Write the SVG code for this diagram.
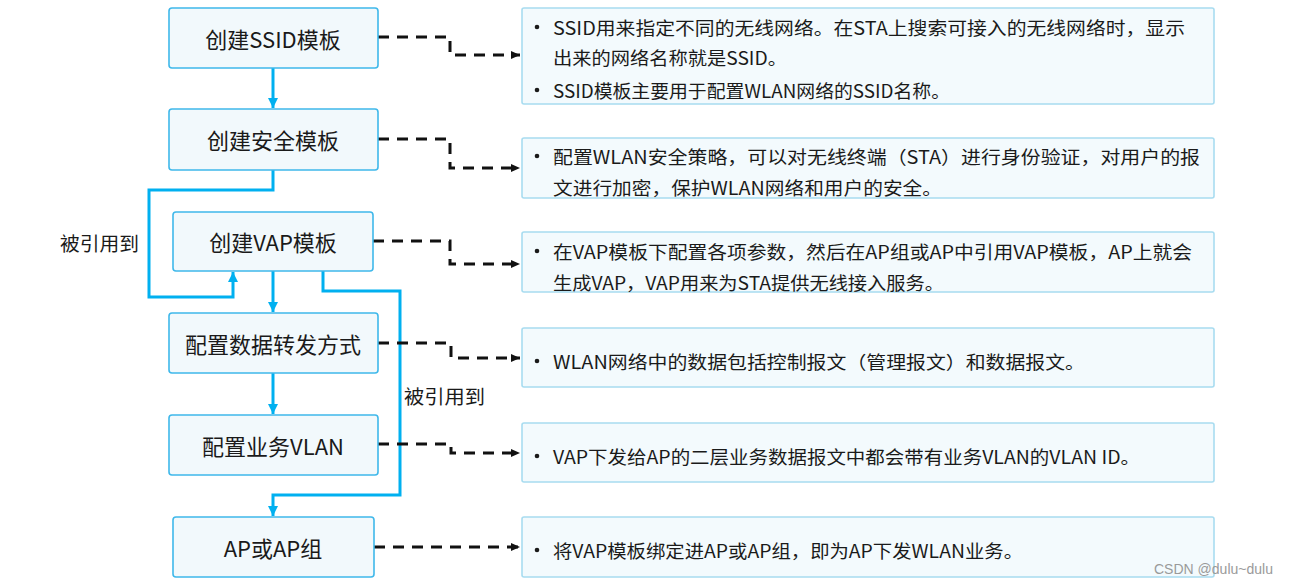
<svg xmlns="http://www.w3.org/2000/svg" width="1289" height="584" viewBox="0 0 1289 584">
<style>
.node rect{fill:#f2f9fc;stroke:#3fb8ea;stroke-width:1.6}
.node text{font-family:"Noto Sans CJK SC","Noto Sans",sans-serif;font-size:22px;fill:#1a1a1a;text-anchor:middle;dominant-baseline:central}
.desc rect{fill:#f3fafd;stroke:#a8dcf0;stroke-width:1.6}
.desc text{font-family:"Noto Sans CJK SC","Noto Sans",sans-serif;font-size:18px;fill:#1a1a1a;dominant-baseline:central}
.desc circle{fill:#1a1a1a}
.flow{fill:none;stroke:#00b0f0;stroke-width:3}
.dash{fill:none;stroke:#111;stroke-width:3;stroke-dasharray:11 8}
.lbl{font-family:"Noto Sans CJK SC","Noto Sans",sans-serif;font-size:19px;fill:#1a1a1a;dominant-baseline:central}
</style>
<defs>
<marker id="ab" markerUnits="userSpaceOnUse" markerWidth="12" markerHeight="12" refX="10" refY="6" orient="auto"><path d="M0,1 L10,6 L0,11 Z" fill="#00b0f0"/></marker>
<marker id="ak" markerUnits="userSpaceOnUse" markerWidth="10" markerHeight="10" refX="9" refY="5" orient="auto"><path d="M0,1 L9,5 L0,9 Z" fill="#111"/></marker>
</defs>
<rect width="1289" height="584" fill="#ffffff"/>

<g id="connectors">
<path class="flow" d="M273,68 V108" marker-end="url(#ab)"/>
<path class="flow" d="M273,170 V190 H149 V297 H233 V272" marker-end="url(#ab)"/>
<path class="flow" d="M273,271 V312" marker-end="url(#ab)"/>
<path class="flow" d="M323,271 V291 H400 V495 H273 V516" marker-end="url(#ab)"/>
<path class="flow" d="M273,373 V414" marker-end="url(#ab)"/>
<path class="dash" d="M378,37 H450 V55 H520" marker-end="url(#ak)"/>
<path class="dash" d="M378,139 H450 V168 H520" marker-end="url(#ak)"/>
<path class="dash" d="M373,241 H450 V264 H520" marker-end="url(#ak)"/>
<path class="dash" d="M378,343 H451 V358 H520" marker-end="url(#ak)"/>
<path class="dash" d="M378,444 H451 V453 H520" marker-end="url(#ak)"/>
<path class="dash" d="M374,547 H520" marker-end="url(#ak)"/>
<text class="lbl" x="60" y="242" textLength="79" lengthAdjust="spacingAndGlyphs">被引用到</text>
<text class="lbl" x="404" y="395" textLength="81" lengthAdjust="spacingAndGlyphs">被引用到</text>
</g>

<g id="n1" class="node"><rect x="169" y="8" width="209" height="60" rx="3"/><text x="273" y="38">创建SSID模板</text></g>
<g id="n2" class="node"><rect x="169" y="109" width="209" height="61" rx="3"/><text x="273" y="139">创建安全模板</text></g>
<g id="n3" class="node"><rect x="173" y="212" width="200" height="59" rx="3"/><text x="273" y="241">创建VAP模板</text></g>
<g id="n4" class="node"><rect x="169" y="313" width="209" height="60" rx="3"/><text x="273" y="343">配置数据转发方式</text></g>
<g id="n5" class="node"><rect x="169" y="415" width="209" height="60" rx="3"/><text x="273" y="445">配置业务VLAN</text></g>
<g id="n6" class="node"><rect x="173" y="517" width="201" height="60" rx="3"/><text x="273" y="547">AP或AP组</text></g>

<g id="d1" class="desc"><rect x="522" y="8" width="692" height="96" rx="2"/>
<circle cx="537" cy="27" r="2.3"/><text x="553" y="27" textLength="632" lengthAdjust="spacingAndGlyphs">SSID用来指定不同的无线网络。在STA上搜索可接入的无线网络时，显示</text>
<text x="553" y="57" textLength="234" lengthAdjust="spacingAndGlyphs">出来的网络名称就是SSID。</text>
<circle cx="537" cy="90" r="2.3"/><text x="553" y="90" textLength="397" lengthAdjust="spacingAndGlyphs">SSID模板主要用于配置WLAN网络的SSID名称。</text></g>

<g id="d2" class="desc"><rect x="522" y="138" width="692" height="60" rx="2"/>
<circle cx="537" cy="156" r="2.3"/><text x="553" y="156" textLength="647" lengthAdjust="spacingAndGlyphs">配置WLAN安全策略，可以对无线终端（STA）进行身份验证，对用户的报</text>
<text x="553" y="187" textLength="389" lengthAdjust="spacingAndGlyphs">文进行加密，保护WLAN网络和用户的安全。</text></g>

<g id="d3" class="desc"><rect x="522" y="232" width="692" height="60" rx="2"/>
<circle cx="537" cy="251" r="2.3"/><text x="553" y="251" textLength="639" lengthAdjust="spacingAndGlyphs">在VAP模板下配置各项参数，然后在AP组或AP中引用VAP模板，AP上就会</text>
<text x="553" y="282" textLength="391" lengthAdjust="spacingAndGlyphs">生成VAP，VAP用来为STA提供无线接入服务。</text></g>

<g id="d4" class="desc"><rect x="522" y="328" width="692" height="59" rx="2"/>
<circle cx="537" cy="361" r="2.3"/><text x="553" y="361" textLength="532" lengthAdjust="spacingAndGlyphs">WLAN网络中的数据包括控制报文（管理报文）和数据报文。</text></g>

<g id="d5" class="desc"><rect x="522" y="423" width="692" height="59" rx="2"/>
<circle cx="537" cy="456" r="2.3"/><text x="553" y="456" textLength="587" lengthAdjust="spacingAndGlyphs">VAP下发给AP的二层业务数据报文中都会带有业务VLAN的VLAN ID。</text></g>

<g id="d6" class="desc"><rect x="522" y="517" width="692" height="60" rx="2"/>
<circle cx="537" cy="550" r="2.3"/><text x="553" y="550" textLength="470" lengthAdjust="spacingAndGlyphs">将VAP模板绑定进AP或AP组，即为AP下发WLAN业务。</text></g>

<text x="1154" y="574" font-family="Liberation Sans, sans-serif" font-size="14" fill="#9a9a9a" textLength="119" lengthAdjust="spacingAndGlyphs">CSDN @dulu~dulu</text>
</svg>
